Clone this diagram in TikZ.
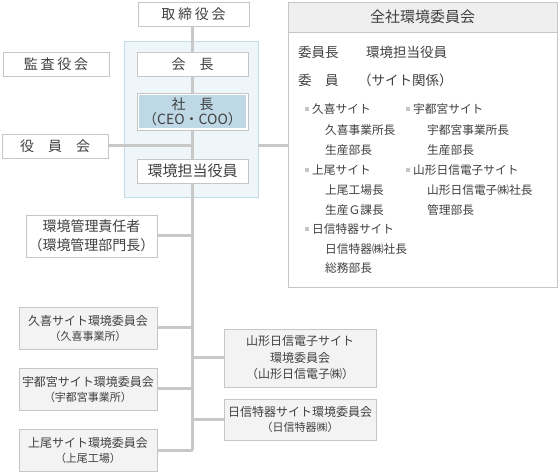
\documentclass[tikz,border=0pt]{standalone}
\usepackage{fontspec}
\setmainfont{Noto Sans CJK JP}
\usetikzlibrary{positioning,calc,backgrounds}
\definecolor{linegray}{HTML}{C8C8C8}
\definecolor{boxline}{HTML}{C6C6C6}
\definecolor{txtgray}{HTML}{404040}
\definecolor{paleblue}{HTML}{EFF6FA}
\definecolor{blueline}{HTML}{C3DCEA}
\definecolor{ceoblue}{HTML}{BED8E6}
\definecolor{sitefill}{HTML}{F3F3F3}
\definecolor{headfill}{HTML}{EFEFEF}

\begin{document}
\begin{tikzpicture}[x=1pt, y=-1pt,
                    every node/.style={text=txtgray, inner sep=0pt},
                    topbox/.style={draw=boxline, fill=white, minimum width=111pt, minimum height=24pt, align=center, font=\fontsize{14}{15}\selectfont},
                    sidebox/.style={topbox, minimum width=106pt},
                    wide/.style={font=\fontsize{14}{15}\selectfont\addfontfeatures{LetterSpace=20}},
                    sitebox/.style={draw=boxline, fill=sitefill, minimum width=138pt, minimum height=42pt, align=center, font=\fontsize{12}{15}\selectfont},
                    link/.style={draw=linegray, line width=3pt},
                    item/.style={anchor=west, font=\fontsize{11.7}{12}\selectfont},
                    lead/.style={anchor=west, font=\fontsize{13.5}{14}\selectfont},
                    dot/.style={fill=boxline, minimum size=4pt}
                ]
                    \useasboundingbox (0,0) rectangle (558,473);

                    % top management
                    \node[topbox, wide] (board) at (193.5,14) {取締役会};
                    \node[sidebox, wide] (audit) at (56,64) {監査役会};
                    \node[topbox] (chair) at (192.5,64) {会　長};
                    \node[topbox, minimum height=37pt, font=\fontsize{14}{15}\selectfont,
                          path picture={\fill[ceoblue] ($(path picture bounding box.north west)+(2,2)$) rectangle ($(path picture bounding box.south east)+(-2,-2)$);}]
                          (ceo) at (192.5,111.5) {社　長\\（CEO・COO）};
                    \node[sidebox] (officers) at (55,146) {役　員　会};
                    \node[topbox, font=\fontsize{15}{16}\selectfont] (envexec) at (192.5,171) {環境担当役員};

                    % company-wide committee
                    \node[draw=boxline, fill=white, minimum width=269pt, minimum height=285pt] (zen) at (422.5,144.5) {};
                    \node[draw=boxline, fill=headfill, minimum width=269pt, minimum height=30pt, font=\fontsize{15}{16}\selectfont] (zenhead) at (422.5,17) {全社環境委員会};
                    \node[lead] (chairlbl) at (298,52) {委員長};
                    \node[lead] (chairval) at (366,52) {環境担当役員};
                    \node[lead] (memlbl) at (298,80) {委　員};
                    \node[lead] (memval) at (358,80) {（サイト関係）};

                    \node[dot] (d1) at (307,109) {};
                    \node[item] (s1) at (312,109) {久喜サイト};
                    \node[item] (s1a) at (325,130) {久喜事業所長};
                    \node[item] (s1b) at (325,150) {生産部長};
                    \node[dot] (d2) at (307,170) {};
                    \node[item] (s2) at (312,170) {上尾サイト};
                    \node[item] (s2a) at (325,190) {上尾工場長};
                    \node[item] (s2b) at (325,210) {生産Ｇ課長};
                    \node[dot] (d3) at (307,229) {};
                    \node[item] (s3) at (312,229) {日信特器サイト};
                    \node[item] (s3a) at (325,249) {日信特器㈱社長};
                    \node[item] (s3b) at (325,268) {総務部長};
                    \node[dot] (d4) at (408,109) {};
                    \node[item] (s4) at (413,109) {宇都宮サイト};
                    \node[item] (s4a) at (427,130) {宇都宮事業所長};
                    \node[item] (s4b) at (427,150) {生産部長};
                    \node[dot] (d5) at (408,170) {};
                    \node[item] (s5) at (413,170) {山形日信電子サイト};
                    \node[item] (s5a) at (427,190) {山形日信電子㈱社長};
                    \node[item] (s5b) at (427,210) {管理部長};

                    % lower organisation
                    \node[topbox, minimum width=131pt, minimum height=42pt, font=\fontsize{14}{19}\selectfont] (envmgr) at (91.5,236) {環境管理責任者\\（環境管理部門長）};
                    \node[sitebox] (kuki) at (88,328) {久喜サイト環境委員会\\{\fontsize{11}{12}\selectfont （久喜事業所）}};
                    \node[sitebox] (utsu) at (88,389) {宇都宮サイト環境委員会\\{\fontsize{11}{12}\selectfont （宇都宮事業所）}};
                    \node[sitebox] (ageo) at (88,450.5) {上尾サイト環境委員会\\{\fontsize{11}{12}\selectfont （上尾工場）}};
                    \node[sitebox, minimum width=152pt, minimum height=58pt, font=\fontsize{12}{16.5}\selectfont] (yama) at (300,358) {山形日信電子サイト\\環境委員会\\（山形日信電子㈱）};
                    \node[sitebox, minimum width=152pt, minimum height=41pt] (nissin) at (300,419.5) {日信特器サイト環境委員会\\{\fontsize{11}{12}\selectfont （日信特器㈱）}};

                    \begin{scope}[on background layer]
                        \node[draw=blueline, fill=paleblue, minimum width=134pt, minimum height=156pt] (group) at (191,119) {};
                        \draw[link] (chair.north) -- (chair.north |- ageo.east);
                        \draw[link] (board.south -| chair.north) -- (chair.north);
                        \draw[link] (officers.east) -- (chair.north |- officers.east);
                        \draw[link] (group.east |- officers.east) -- (zen.west |- officers.east);
                        \draw[link] (envmgr.east) -- (chair.north |- envmgr.east);
                        \draw[link] (kuki.east) -- (chair.north |- kuki.east);
                        \draw[link] (utsu.east) -- (chair.north |- utsu.east);
                        \draw[link] (ageo.east) -- (chair.north |- ageo.east);
                        \draw[link] (yama.west) -- (chair.north |- yama.west);
                        \draw[link] (nissin.west) -- (chair.north |- nissin.west);
                    \end{scope}
                \end{tikzpicture}
\end{document}
